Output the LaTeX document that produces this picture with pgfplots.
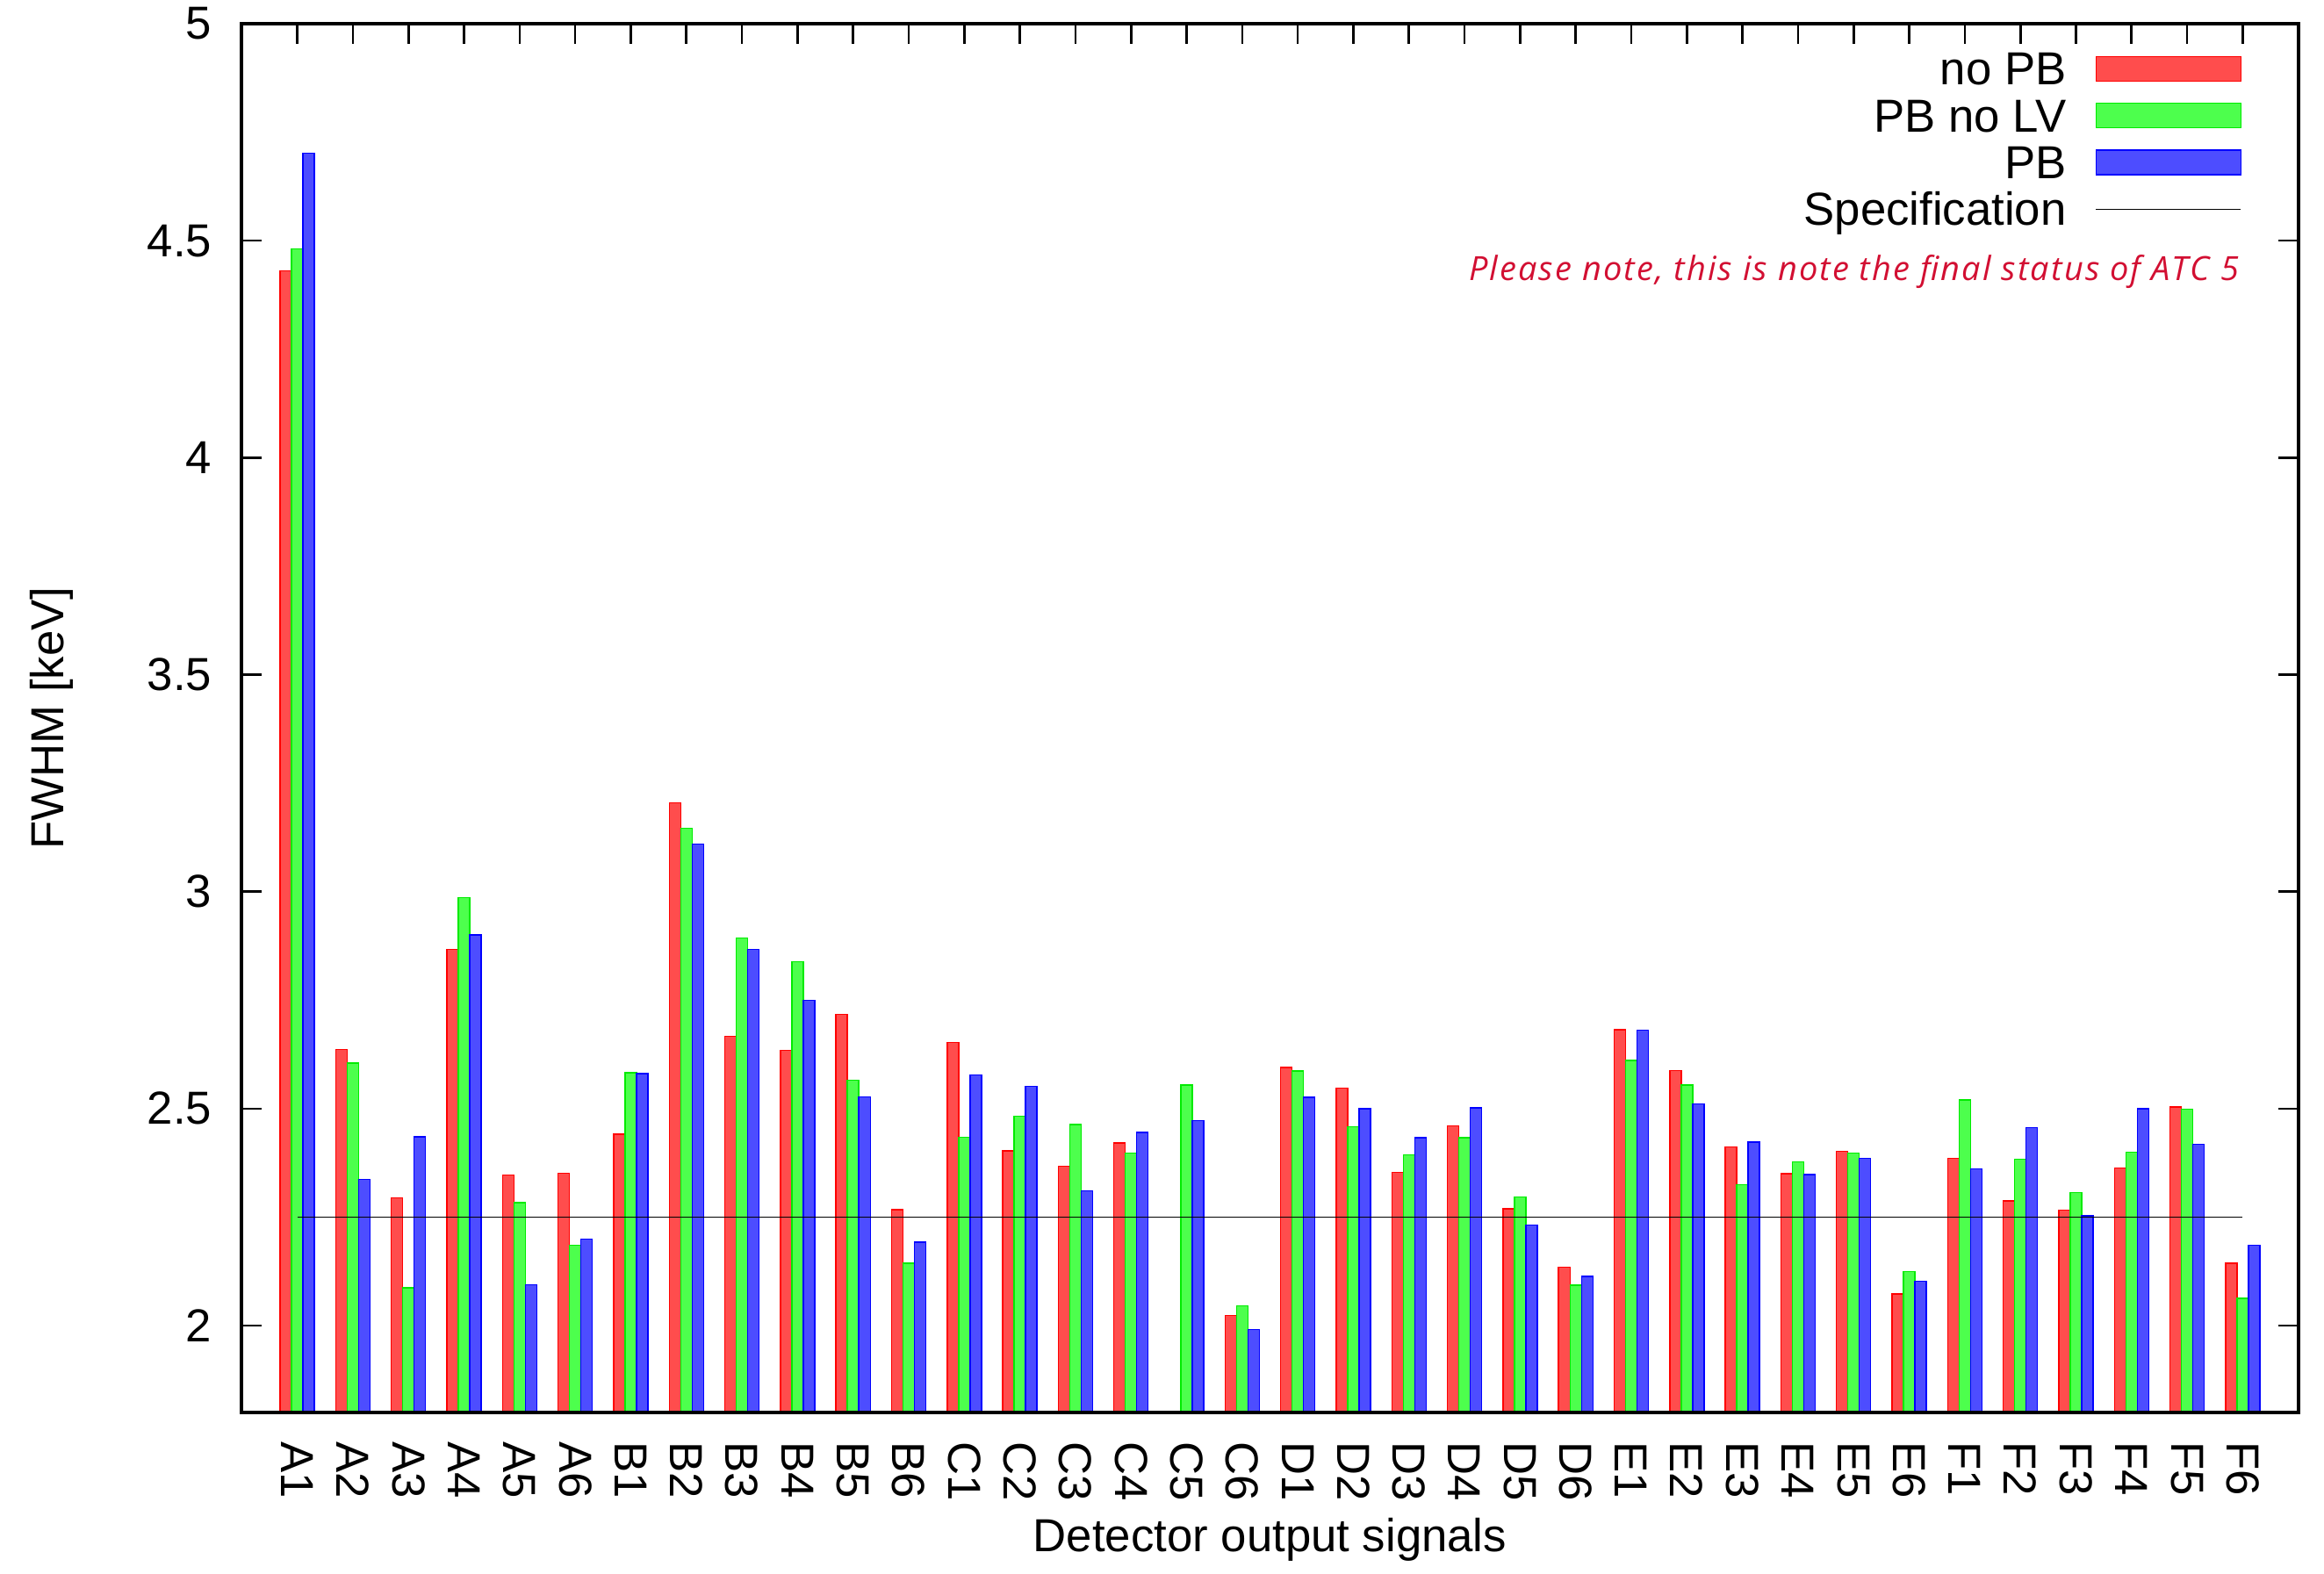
\documentclass[border=0pt]{standalone}
\usepackage{pgfplots}
\usepackage{pgfplotstable}
\pgfplotsset{compat=1.18}
\usepackage{fontspec}
\setmainfont{Liberation Sans}
\newfontfamily\notefont{Open Sans}[LetterSpace=5.5]

\definecolor{barred}{RGB}{255,77,77}
\definecolor{barredline}{RGB}{255,0,0}
\definecolor{bargreen}{RGB}{77,255,77}
\definecolor{bargreenline}{RGB}{0,235,0}
\definecolor{barblue}{RGB}{77,77,255}
\definecolor{barblueline}{RGB}{0,0,255}
\definecolor{notered}{RGB}{210,15,50}

% legend samples: a wide box for the bar series, a plain line for the limit
\pgfplotsset{
  bar legend img/.style={legend image code/.code={\draw[##1] (0mm,-1.0mm) rectangle (16.5mm,1.8mm);}},
  line legend img/.style={legend image code/.code={\draw[##1] (0mm,0.4mm) -- (16.5mm,0.4mm);}},
}

% FWHM per detector output signal (keV)
\pgfplotstableread{
idx nopb  pbnolv pb
0   4.430 4.481  4.702
1   2.636 2.605  2.337
2   2.294 2.087  2.435
3   2.867 2.986  2.900
4   2.347 2.283  2.094
5   2.351 2.185  2.199
6   2.441 2.583  2.581
7   3.205 3.146  3.109
8   2.666 2.893  2.867
9   2.634 2.838  2.750
10  2.717 2.566  2.527
11  2.267 2.144  2.192
12  2.653 2.434  2.577
13  2.403 2.483  2.551
14  2.367 2.463  2.311
15  2.421 2.397  2.445
16  nan   2.554  2.472
17  2.023 2.046  1.991
18  2.595 2.587  2.526
19  2.547 2.458  2.500
20  2.353 2.394  2.433
21  2.460 2.433  2.502
22  2.269 2.296  2.232
23  2.135 2.093  2.113
24  2.682 2.611  2.681
25  2.588 2.554  2.511
26  2.412 2.325  2.423
27  2.350 2.377  2.348
28  2.401 2.397  2.385
29  2.073 2.124  2.102
30  2.385 2.520  2.361
31  2.287 2.383  2.456
32  2.266 2.307  2.253
33  2.363 2.399  2.500
34  2.504 2.499  2.418
35  2.144 2.063  2.185
}\fwhmdata

\newcommand{\lblfont}{\fontsize{15}{18}\selectfont}

\begin{document}
\begin{tikzpicture}
\useasboundingbox (0,0) rectangle (264.7mm,179.3mm);
\begin{axis}[
  at={(27.53mm,18.41mm)}, anchor=south west,
  scale only axis, width=234.24mm, height=158.19mm,
  xmin=-1, xmax=36, ymin=1.8, ymax=5,
  xtick={0,...,35},
  xticklabels={A1,A2,A3,A4,A5,A6,B1,B2,B3,B4,B5,B6,C1,C2,C3,C4,C5,C6,D1,D2,D3,D4,D5,D6,E1,E2,E3,E4,E5,E6,F1,F2,F3,F4,F5,F6},
  ytick={2,2.5,3,3.5,4,4.5,5},
  tick align=inside,
  major tick length=2.3mm,
  tick style={line width=0.75pt, black},
  axis line style={line width=1.05pt},
  /pgf/number format/assume math mode=true,
  tick label style={font=\lblfont},
  xticklabel style={rotate=-90, anchor=west, inner sep=0pt},
  xticklabel shift=3.3mm,
  yticklabel style={anchor=east, inner sep=0pt},
  yticklabel shift=3.36mm,
  xlabel={Detector output signals},
  ylabel={FWHM [keV]},
  every axis x label/.style={at={(axis description cs:0.5,0)}, yshift=-14.5mm, anchor=center, font=\lblfont},
  every axis y label/.style={at={(axis description cs:0,0.5)}, xshift=-21.63mm, rotate=90, anchor=center, font=\lblfont},
  legend style={draw=none, fill=none, at={(axis description cs:0.9724,0.9818)}, anchor=north east,
    inner sep=0pt, outer sep=0pt, row sep=0pt, column sep=3.3mm, font=\lblfont,
    nodes={inner sep=0pt, text height=4.1mm, text depth=1.23mm}},
  legend cell align=right,
  legend plot pos=right,
]
\addplot[ybar, bar width=0.2055, bar shift=-0.2055, fill=barred, draw=barredline, line width=0.4pt, bar legend img]
  table[x=idx, y=nopb] {\fwhmdata};
\addlegendentry{no PB}
\addplot[ybar, bar width=0.2055, bar shift=0, fill=bargreen, draw=bargreenline, line width=0.4pt, bar legend img]
  table[x=idx, y=pbnolv] {\fwhmdata};
\addlegendentry{PB no LV}
\addplot[ybar, bar width=0.2055, bar shift=0.2055, fill=barblue, draw=barblueline, line width=0.4pt, bar legend img]
  table[x=idx, y=pb] {\fwhmdata};
\addlegendentry{PB}
% specification limit
\addplot[black, line width=0.45pt, mark=none, line legend img]
  coordinates {(0,2.25) (35,2.25)};
\addlegendentry{Specification}
% keep the lower frame line above the bars
\draw[line width=1.05pt] (axis description cs:0,0) -- (axis description cs:1,0);
\node[anchor=base east, text=notered, font=\notefont\itshape\fontsize{10.8}{13}\selectfont]
  at (axis description cs:0.9765,0.8150) {Please note, this is note the final status of ATC 5};
\end{axis}
\end{tikzpicture}
\end{document}
